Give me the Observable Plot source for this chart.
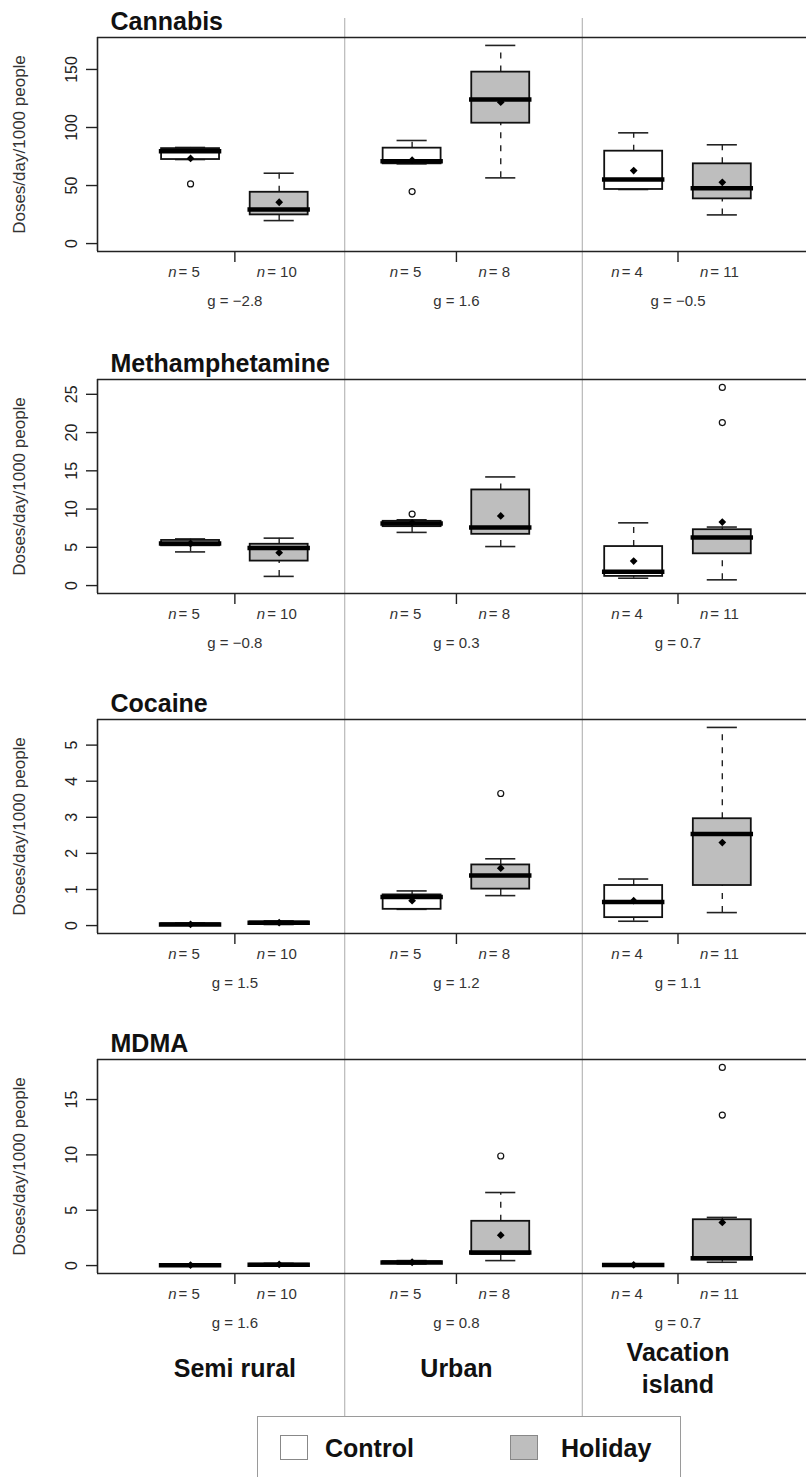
<!DOCTYPE html>
<html><head><meta charset="utf-8">
<script src="https://cdn.jsdelivr.net/npm/d3@7"></script>
<script src="https://cdn.jsdelivr.net/npm/@observablehq/plot@0.6"></script>
<style>
body{margin:0;background:#fff;font-family:"Liberation Sans",Arial,sans-serif;}
#chart{position:relative;width:806px;height:1477px;overflow:hidden;background:#fff;}
.layer{position:absolute;left:0;}
#legend{position:absolute;left:257px;top:1416px;width:424px;height:90px;border:1px solid #9a9a9a;box-sizing:border-box;}
.sw{position:absolute;top:18px;width:28px;height:25px;border:1px solid #888;box-sizing:border-box;}
.lt{position:absolute;top:31px;transform:translateY(-50%);font-weight:bold;font-size:25px;color:#111;line-height:1;}
</style></head><body><div id="chart"></div>
<script>
// ---------- data ----------
const sites = ["Semi rural", "Urban", "Vacation island"];
const siteLabels = ["Semi rural", "Urban", "Vacation\nisland"];
const groups = ["Control", "Holiday"];
const groupFill = ["#ffffff", "#bebebe"];
const sampleSizes = [5, 10, 5, 8, 4, 11]; // per box, site by site (Control, Holiday)
const drugs = ["Cannabis", "Methamphetamine", "Cocaine", "MDMA"];
const yLabel = "Doses/day/1000 people";

// box stats per box: [lower whisker, Q1, median, Q3, upper whisker, mean]
const cannabisBoxes = [
  [72.4, 72.4, 79.6, 81.8, 82.8, 73.3],
  [19.8, 24.7, 29.3, 44.2, 60.6, 35.6],
  [68.7, 68.7, 71.0, 82.2, 88.8, 71.8],
  [56.6, 103.7, 124.1, 147.7, 170.7, 121.8],
  [46.6, 46.6, 55.2, 79.6, 95.4, 62.9],
  [24.7, 38.5, 47.7, 68.7, 85.1, 52.8]
];
const cannabisOutliers = [[0, 51.4], [2, 44.8]]; // [box index, value]
const cannabisG = [-2.8, 1.6, -0.5];
const cannabisTicks = [0, 50, 100, 150];

const methBoxes = [
  [4.4, 5.2, 5.5, 5.9, 6.1, 5.5],
  [1.2, 3.2, 4.9, 5.4, 6.2, 4.3],
  [6.95, 7.7, 8.1, 8.4, 8.6, 8.2],
  [5.1, 6.7, 7.6, 12.5, 14.2, 9.1],
  [0.96, 1.2, 1.8, 5.1, 8.2, 3.2],
  [0.75, 4.15, 6.3, 7.3, 7.65, 8.3]
];
const methOutliers = [[2, 9.35], [5, 21.3], [5, 25.9]];
const methG = [-0.8, 0.3, 0.7];
const methTicks = [0, 5, 10, 15, 20, 25];

const cocaineBoxes = [
  [0.01, 0.02, 0.03, 0.05, 0.07, 0.035],
  [0.03, 0.06, 0.08, 0.10, 0.13, 0.08],
  [0.45, 0.45, 0.79, 0.85, 0.96, 0.69],
  [0.83, 1.01, 1.39, 1.68, 1.85, 1.59],
  [0.12, 0.22, 0.65, 1.11, 1.29, 0.69],
  [0.36, 1.11, 2.54, 2.96, 5.49, 2.3]
];
const cocaineOutliers = [[3, 3.66]];
const cocaineG = [1.5, 1.2, 1.1];
const cocaineTicks = [0, 1, 2, 3, 4, 5];

const mdmaBoxes = [
  [0.0, 0.01, 0.03, 0.06, 0.1, 0.05],
  [0.02, 0.05, 0.08, 0.12, 0.2, 0.1],
  [0.15, 0.22, 0.28, 0.35, 0.45, 0.3],
  [0.45, 1.0, 1.18, 4.0, 6.6, 2.75],
  [0.0, 0.02, 0.05, 0.08, 0.12, 0.06],
  [0.3, 0.52, 0.67, 4.14, 4.35, 3.9]
];
const mdmaOutliers = [[3, 9.9], [5, 13.6], [5, 17.9]];
const mdmaG = [1.6, 0.8, 0.7];
const mdmaTicks = [0, 5, 10, 15];

const separators = [2.74, 5.42];

// ---------- layout ----------
const W = 806;
const xDomain = [-0.05, 7.95];
const boxHalf = 0.327, capHalf = 0.17;
const siteCenters = sites.map((s, i) => i * 2.5 + 1.5);
const boxPos = (site, grp) => site * 2.5 + grp + 1;
const fmtG = d3.format(".1f");
const font = "'Liberation Sans', Arial, sans-serif";
const chart = document.getElementById("chart");

function addLayer(node, top) {
  const d = document.createElement("div");
  d.className = "layer";
  d.style.top = top + "px";
  d.appendChild(node);
  chart.appendChild(d);
}

// overlay: separators and site labels
addLayer(Plot.plot({
  width: W, height: 1477,
  marginTop: 18, marginBottom: 61, marginLeft: 97, marginRight: 0,
  x: {domain: xDomain, axis: null},
  style: {background: "transparent", fontFamily: font, color: "#111"},
  marks: [
    Plot.ruleX(separators, {stroke: "#aaaaaa", strokeWidth: 1}),
    Plot.text(siteLabels, {x: (d, i) => siteCenters[i], frameAnchor: "bottom", dy: -50,
      lineAnchor: "middle", textAnchor: "middle",
      fontSize: 25, fontWeight: "bold", lineHeight: 1.3, fill: "#111"})
  ]
}), 0);

function panel(drug, stats, outliers, gVals, yTicks, top) {
  const rows = stats.map((s, k) => ({
    pos: boxPos(Math.floor(k / 2), k % 2), group: k % 2,
    lo: s[0], q1: s[1], med: s[2], q3: s[3], hi: s[4], mean: s[5], n: sampleSizes[k]
  }));
  const outs = outliers.map(([k, v]) => ({pos: rows[k].pos, v}));
  const vmax = d3.max([...stats.flat(), ...outliers.map(o => o[1])]);
  const yDomain = [-0.04 * vmax, 1.04 * vmax];
  const svg = Plot.plot({
    width: W, height: 330,
    marginTop: 37, marginBottom: 79, marginLeft: 97, marginRight: 0,
    x: {domain: xDomain},
    y: {domain: yDomain},
    style: {background: "transparent", fontFamily: font, color: "#222", overflow: "visible"},
    marks: [
      Plot.ruleY(yDomain, {stroke: "#222", strokeWidth: 1.6}),
      Plot.ruleX([xDomain[0]], {stroke: "#222", strokeWidth: 1.6}),
      Plot.axisY(yTicks, {tickSize: 11, tickPadding: 10, tickRotate: -90, fontSize: 16, label: null, strokeWidth: 1.4}),
      Plot.axisX(siteCenters, {tickSize: 11, tickFormat: () => "", label: null, strokeWidth: 1.4}),
      Plot.text([yLabel], {frameAnchor: "left", dx: -78, rotate: -90, textAnchor: "middle",
        lineAnchor: "middle", fontSize: 17, fill: "#333"}),
      Plot.text([drug], {frameAnchor: "top-left", dx: 13, dy: -16, textAnchor: "start",
        lineAnchor: "middle", fontSize: 25, fontWeight: "bold", fill: "#111"}),
      Plot.ruleX(rows, {x: "pos", y1: "q3", y2: "hi", strokeDasharray: "6,7", strokeWidth: 1.4, stroke: "#222"}),
      Plot.ruleX(rows, {x: "pos", y1: "lo", y2: "q1", strokeDasharray: "6,7", strokeWidth: 1.4, stroke: "#222"}),
      Plot.ruleY(rows, {y: "hi", x1: d => d.pos - capHalf, x2: d => d.pos + capHalf, strokeWidth: 1.6, stroke: "#222"}),
      Plot.ruleY(rows, {y: "lo", x1: d => d.pos - capHalf, x2: d => d.pos + capHalf, strokeWidth: 1.6, stroke: "#222"}),
      Plot.rect(rows, {x1: d => d.pos - boxHalf, x2: d => d.pos + boxHalf, y1: "q1", y2: "q3",
        fill: d => groupFill[d.group], stroke: "#111", strokeWidth: 1.8}),
      Plot.ruleY(rows, {y: "med", x1: d => d.pos - boxHalf, x2: d => d.pos + boxHalf,
        strokeWidth: 4.5, stroke: "#000", strokeLinecap: "square"}),
      Plot.dot(rows, {x: "pos", y: "mean", symbol: "diamond2", r: 3.5, fill: "#000", stroke: null}),
      Plot.dot(outs, {x: "pos", y: "v", r: 3, stroke: "#111", strokeWidth: 1.2, fill: "none"}),
      Plot.text(rows, {x: "pos", text: () => "n", frameAnchor: "bottom", dy: 21, dx: -14,
        lineAnchor: "middle", textAnchor: "end", fontStyle: "italic", fontSize: 15, fill: "#333"}),
      Plot.text(rows, {x: "pos", text: d => "= " + d.n, frameAnchor: "bottom", dy: 21, dx: -12,
        lineAnchor: "middle", textAnchor: "start", fontSize: 15, fill: "#333"}),
      Plot.text(gVals, {x: (d, i) => siteCenters[i], text: d => "g = " + fmtG(d),
        frameAnchor: "bottom", dy: 50, lineAnchor: "middle", textAnchor: "middle", fontSize: 15, fill: "#333"})
    ]
  });
  addLayer(svg, top);
}

panel(drugs[0], cannabisBoxes, cannabisOutliers, cannabisG, cannabisTicks, 0);
panel(drugs[1], methBoxes, methOutliers, methG, methTicks, 342);
panel(drugs[2], cocaineBoxes, cocaineOutliers, cocaineG, cocaineTicks, 682);
panel(drugs[3], mdmaBoxes, mdmaOutliers, mdmaG, mdmaTicks, 1022);

// legend
const legend = document.createElement("div");
legend.id = "legend";
const swLeft = [22, 252], txtLeft = [67, 303];
groups.forEach((g, i) => {
  const sw = document.createElement("div");
  sw.className = "sw"; sw.style.left = swLeft[i] + "px"; sw.style.background = groupFill[i];
  const t = document.createElement("div");
  t.className = "lt"; t.style.left = txtLeft[i] + "px"; t.textContent = g;
  legend.appendChild(sw); legend.appendChild(t);
});
chart.appendChild(legend);
</script></body></html>
